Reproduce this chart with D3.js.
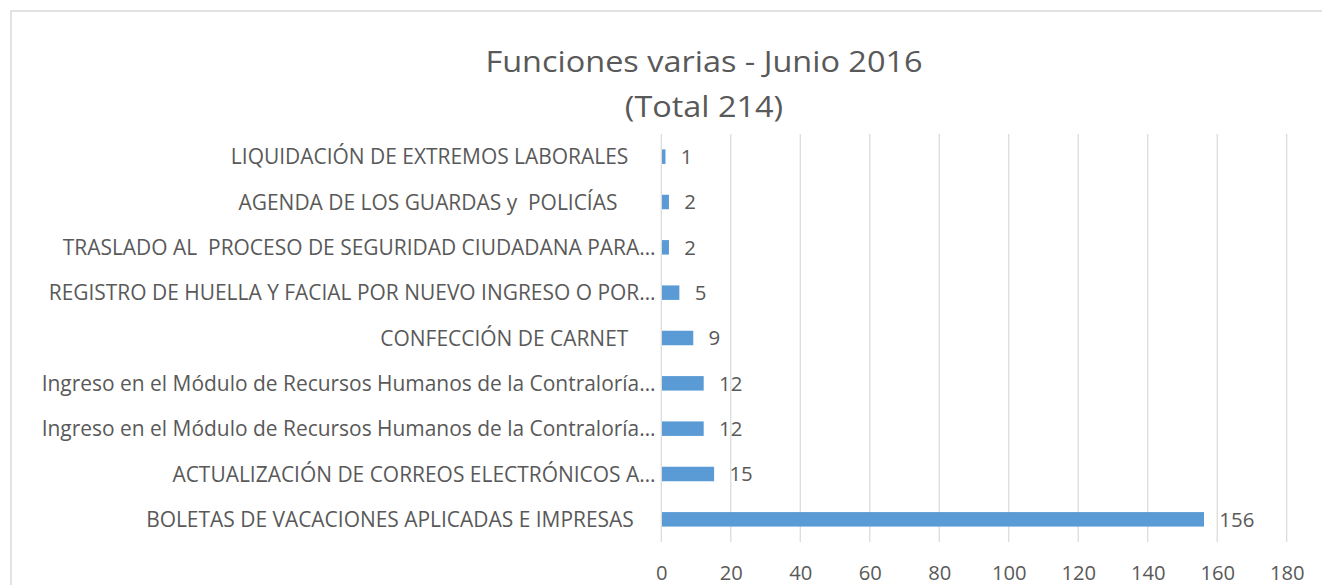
<!DOCTYPE html>
<html>
<head>
<meta charset="utf-8">
<script src="https://cdn.jsdelivr.net/npm/d3@7"></script>
<style>
  html, body { margin: 0; padding: 0; background: #fff; }
  svg text { font-family: "Open Sans", Lato, sans-serif; fill: #595959; white-space: pre; }
</style>
</head>
<body>
<svg id="chart" width="1322" height="585"></svg>
<script>
const titleLines = ["Funciones varias - Junio 2016", "(Total 214)"];
const categories = [
  "LIQUIDACIÓN DE EXTREMOS LABORALES     ",
  "AGENDA DE LOS GUARDAS y  POLICÍAS       ",
  "TRASLADO AL  PROCESO DE SEGURIDAD CIUDADANA PARA…",
  "REGISTRO DE HUELLA Y FACIAL POR NUEVO INGRESO O POR…",
  "CONFECCIÓN DE CARNET     ",
  "Ingreso en el Módulo de Recursos Humanos de la Contraloría…",
  "Ingreso en el Módulo de Recursos Humanos de la Contraloría…",
  "ACTUALIZACIÓN DE CORREOS ELECTRÓNICOS A…",
  "BOLETAS DE VACACIONES APLICADAS E IMPRESAS    "
];
const values = [1, 2, 2, 5, 9, 12, 12, 15, 156];
const xTicks = [0, 20, 40, 60, 80, 100, 120, 140, 160, 180];

const svg = d3.select("#chart");

// chart border
svg.append("rect")
  .attr("x", 11).attr("y", 11)
  .attr("width", 1400).attr("height", 700)
  .attr("fill", "none").attr("stroke", "#D9D9D9").attr("stroke-width", 1.5);

const plot = { left: 661.3, right: 1286.7, top: 134, bottom: 542 };

const x = d3.scaleLinear().domain([0, 180]).range([plot.left, plot.right]);
const y = d3.scaleBand().domain(d3.range(categories.length))
  .range([plot.top, plot.bottom]).paddingInner(0.68).paddingOuter(0.34);

// gridlines
svg.append("g").selectAll("line").data(xTicks).join("line")
  .attr("x1", d => x(d)).attr("x2", d => x(d))
  .attr("y1", plot.top).attr("y2", plot.bottom)
  .attr("stroke", "#D9D9D9").attr("stroke-width", 1.2);

// x axis labels
const xAxis = d3.axisBottom(x).tickValues(xTicks).tickSize(0).tickPadding(0);
const gx = svg.append("g").attr("transform", `translate(0,${plot.bottom})`).call(xAxis);
gx.select(".domain").remove();
gx.selectAll("text")
  .attr("y", 38).attr("dy", 0)
  .style("font-size", "20.2px").style("fill", "#595959")
  .style("font-family", "'Open Sans', Lato, sans-serif");

// bars
svg.append("g").selectAll("rect").data(values).join("rect")
  .attr("x", x(0) + 0.7)
  .attr("y", (d, i) => y(i))
  .attr("width", d => x(d) - x(0))
  .attr("height", y.bandwidth())
  .attr("fill", "#5B9BD5");

// value labels
svg.append("g").selectAll("text").data(values).join("text")
  .attr("x", d => x(d) + 16)
  .attr("y", (d, i) => y(i) + y.bandwidth() / 2)
  .attr("dy", "0.36em")
  .style("font-size", "20.4px")
  .text(d => d);

// category labels
const yAxis = d3.axisLeft(y).tickFormat(i => categories[i]).tickSize(0).tickPadding(0);
const gy = svg.append("g").attr("transform", `translate(655.5,0)`).call(yAxis);
gy.select(".domain").remove();
gy.selectAll("text")
  .style("font-size", "20.95px").style("fill", "#595959")
  .style("font-family", "'Open Sans', Lato, sans-serif")
  .attr("dy", "0.36em");

// title
svg.append("g").selectAll("text").data(titleLines).join("text")
  .attr("transform", (d, i) => `translate(704,${72 + i * 45}) scale(1.1,1)`)
  .attr("text-anchor", "middle")
  .style("font-size", "29.5px")
  .text(d => d);
</script>
</body>
</html>
